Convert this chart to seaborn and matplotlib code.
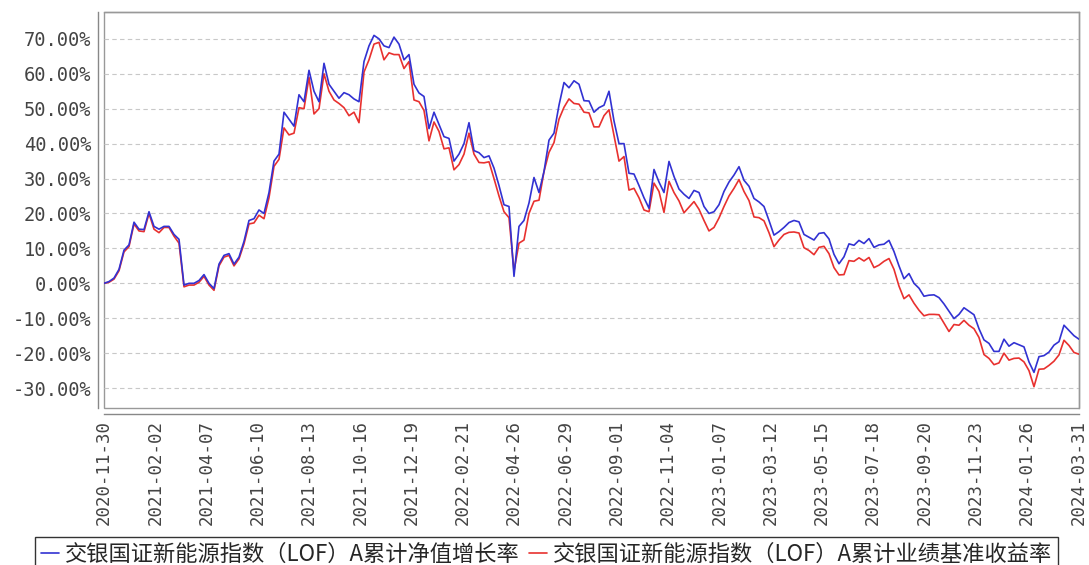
import pandas as pd
import matplotlib
matplotlib.use("Agg")
import matplotlib.pyplot as plt
import seaborn as sns

# Data (cumulative return in %)
start_date = "2020-11-30"
end_date = "2024-03-31"

nav_growth = [
    0, 0.5, 1.5, 4, 9.5, 11, 17.5, 15.5, 15.4, 20.5,
    16.3, 15.5, 16.3, 16.3, 14, 12.6, -0.5, 0, 0, 0.8,
    2.5, 0, -1.5, 5.5, 8, 8.5, 5.5, 7.5, 12, 18,
    18.5, 21, 20, 26, 35, 37, 49, 47, 45, 54,
    52, 61, 55, 52, 63, 57, 55, 53, 54.6, 54,
    52.8, 52, 63.5, 68, 71, 70, 68, 67.5, 70.5, 68.5,
    64, 65.5, 57, 54.5, 53.5, 44.3, 49, 45.5, 42, 41.5,
    35, 37, 40, 46, 38, 37.4, 36, 36.5, 33, 28,
    22.5, 22, 2, 16.3, 18, 23, 30.3, 26, 32, 41,
    43, 51, 57.5, 56, 58, 57, 52.3, 52.2, 49, 50.3,
    51, 55, 46.5, 40, 40, 31.5, 31.3, 28, 24.5, 21.5,
    32.6, 29, 26, 34.9, 30.6, 27, 25.5, 24.3, 26.6, 26,
    22, 20, 20.5, 22.5, 26.3, 29, 31, 33.4, 29.5, 27.8,
    24.3, 23.3, 22, 18, 13.8, 14.8, 16, 17.4, 18, 17.6,
    14, 13.2, 12.4, 14.3, 14.5, 12.7, 8.3, 5.6, 7.6, 11.3,
    10.9, 12.3, 11.4, 12.8, 10.3, 11, 11.2, 12.3, 9.1, 5,
    1.3, 2.8, 0, -1.4, -3.7, -3.4, -3.3, -4.1, -5.9, -8,
    -10.1, -8.9, -7, -8, -9, -13, -16.2, -17.2, -19.5, -19.5,
    -16, -18, -17, -17.6, -18.2, -22.5, -25.5, -21, -20.7, -19.7,
    -17.7, -16.7, -12, -13.5, -15, -16,
]

benchmark = [
    0, 0.3, 1.2, 3.6, 9, 10.5, 17, 15, 14.8, 20,
    15.5, 14.5, 16, 16, 13.5, 11.5, -1, -0.5, -0.5, 0.3,
    2, -0.5, -2, 5, 7.5, 8, 5, 7, 11.3, 17,
    17.3, 19.5, 18.5, 24.5, 33.5, 35.5, 44.5, 42.5, 43, 50.3,
    50, 59, 48.5, 50, 60, 55, 52.5, 51.5, 50.3, 48,
    49, 46, 60.5, 64, 68.5, 69, 64, 66, 65.5, 65.5,
    61.5, 63.5, 52.5, 52, 49.5, 40.8, 46.2, 43.5, 38.5, 38.8,
    32.5, 34, 37, 43, 37, 34.6, 34.5, 34.8, 30, 25,
    20.5, 18.8, 3.5, 11.5, 12.4, 20, 23.5, 23.8, 32, 37.5,
    40.3, 47, 50.4, 52.8, 51.5, 51.3, 49, 48.8, 44.8, 44.8,
    48, 49.7, 42.3, 35, 36.3, 26.7, 27.2, 24.5, 21, 20.5,
    28.7, 26.3, 20.3, 29.2, 26, 23.6, 20.2, 21.8, 23.4, 21.2,
    18, 15, 16, 18.7, 22, 25, 27.2, 29.7, 26.3, 23.7,
    19, 18.8, 17.9, 14.5, 10.5, 12.4, 14, 14.6, 14.7, 14.4,
    10.2, 9.4, 8.2, 10.3, 10.6, 8.5, 4.5, 2.4, 2.5, 6.5,
    6.3, 7.3, 6.4, 7.4, 4.5, 5.2, 6.3, 7.1, 4, -0.8,
    -4.4, -3.3, -5.7, -7.7, -9.3, -8.9, -8.9, -9, -11.4, -13.8,
    -11.8, -12, -10.6, -12, -13, -15.5, -20.4, -21.5, -23.3, -22.8,
    -20, -22, -21.5, -21.4, -22.5, -25, -29.6, -24.6, -24.5, -23.5,
    -22.3, -20.5, -16.3, -17.8, -19.8, -20.3,
]

tick_labels = [
    "2020-11-30", "2021-02-02", "2021-04-07", "2021-06-10", "2021-08-13",
    "2021-10-16", "2021-12-19", "2022-02-21", "2022-04-26", "2022-06-29",
    "2022-09-01", "2022-11-04", "2023-01-07", "2023-03-12", "2023-05-15",
    "2023-07-18", "2023-09-20", "2023-11-23", "2024-01-26", "2024-03-31",
]
y_ticks = [-30, -20, -10, 0, 10, 20, 30, 40, 50, 60, 70]

name_nav = "交银国证新能源指数（LOF）A累计净值增长率"
name_bench = "交银国证新能源指数（LOF）A累计业绩基准收益率"

dates = pd.date_range(start_date, end_date, periods=len(nav_growth))
df = pd.DataFrame({"date": dates, "nav": nav_growth, "bench": benchmark})

sns.set_style("white")
plt.rcParams["font.family"] = ["DejaVu Sans Mono", "Noto Sans CJK SC", "DejaVu Sans"]
plt.rcParams["xtick.labelsize"] = 12.5
plt.rcParams["ytick.labelsize"] = 13.5

fig = plt.figure(figsize=(10.89, 5.65), dpi=100)
ax = fig.add_axes([0.0955, 0.2779, 0.8953, 0.7009])

sns.lineplot(data=df, x="date", y="bench", ax=ax, color="#e8312f", lw=1.2,
             label=name_bench, zorder=3)
sns.lineplot(data=df, x="date", y="nav", ax=ax, color="#3232d2", lw=1.2,
             label=name_nav, zorder=4)

ax.set_xlim(pd.Timestamp(start_date), pd.Timestamp(end_date))
ax.set_ylim(-35.7, 77.7)
ax.set_xticks(pd.to_datetime(tick_labels))
ax.set_xticklabels(tick_labels)
ax.set_yticks(y_ticks)
ax.set_yticklabels([f"{v:.2f}%" for v in y_ticks])
ax.tick_params(axis="x", labelrotation=90, labelsize=12.5)
ax.tick_params(axis="y", labelsize=13.5)
ax.tick_params(axis="both", length=4, width=0.8, color="#888888", pad=1,
               labelcolor="#444444")
ax.set_xlabel("")
ax.set_ylabel("")

ax.grid(axis="y", color="#c8c8c8", linestyle=(0, (4, 3)), lw=0.8)
ax.grid(axis="x", visible=False)

for side in ["top", "right"]:
    ax.spines[side].set_color("#999999")
    ax.spines[side].set_linewidth(1.0)
for side in ["left", "bottom"]:
    ax.spines[side].set_color("#888888")
    ax.spines[side].set_linewidth(1.0)
    ax.spines[side].set_position(("outward", 4))
ax.patch.set_edgecolor("#999999")
ax.patch.set_linewidth(1.0)

handles, labels = ax.get_legend_handles_labels()
leg = fig.legend(handles[::-1], labels[::-1], loc="upper center",
                 bbox_to_anchor=(0.502, 0.049), ncol=2, frameon=True,
                 fancybox=False, edgecolor="black", borderaxespad=0,
                 handlelength=0.8, handletextpad=0.3, columnspacing=0.4,
                 borderpad=0.25,
                 prop={"family": ["Noto Sans CJK SC", "DejaVu Sans"], "size": 16})
leg.get_frame().set_linewidth(1.0)
ax.get_legend().remove()

fig.savefig("out.png", dpi=100)
